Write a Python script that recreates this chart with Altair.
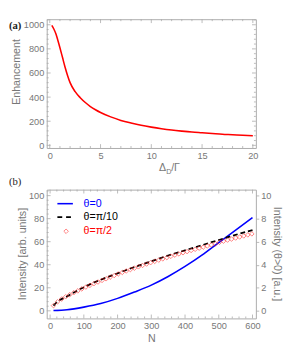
import altair as alt
import pandas as pd

# ---------------- data: panel (a) ----------------
delta_ratio = [0.2, 0.4, 0.6, 0.8, 1.0, 1.25, 1.5, 1.75, 2.0, 2.5, 3.0, 3.5, 4.0, 4.5, 5.0,
               6.0, 7.0, 8.0, 9.0, 10.0, 11.0, 12.0, 13.0, 14.0, 15.0, 16.0, 17.0, 18.0, 19.0, 20.0]
enhancement = [995, 965, 925, 870, 810, 730, 650, 580, 520, 445, 395, 355, 322, 295, 272,
               236, 207, 185, 166, 151, 138, 127, 118, 110, 104, 98, 92, 88, 83, 79]

# ---------------- data: panel (b) ----------------
n_blue = [10, 50, 100, 150, 200, 250, 300, 350, 400, 450, 500, 550, 600]
intensity_theta0 = [0.2, 0.9, 3.2, 6.3, 10.8, 16.3, 22.3, 29.8, 38.5, 48.3, 59.3, 70.0, 81.0]

n_dashed = [10, 20, 50, 100, 150, 200, 250, 300, 350, 400, 450, 500, 550, 600]
intensity_pi10 = [0.45, 0.75, 1.25, 2.05, 2.7, 3.25, 3.8, 4.3, 4.8, 5.25, 5.7, 6.15, 6.6, 7.0]

n_diamond = [10, 22, 34, 46, 58, 70, 82, 94, 106, 118, 130, 142, 154, 166, 178, 190, 202,
             214, 226, 238, 250, 262, 274, 286, 298, 310, 322, 334, 346, 358, 370, 382, 394,
             406, 418, 430, 442, 454, 466, 478, 490, 502, 514, 526, 538, 550, 562, 574, 586, 598]
intensity_pi2 = [0.45, 0.78, 1.02, 1.22, 1.40, 1.57, 1.73, 1.90, 2.06, 2.21, 2.36, 2.50, 2.64,
                 2.78, 2.92, 3.06, 3.20, 3.33, 3.46, 3.58, 3.70, 3.82, 3.94, 4.06, 4.18, 4.29,
                 4.40, 4.51, 4.62, 4.73, 4.84, 4.94, 5.04, 5.14, 5.24, 5.34, 5.44, 5.53, 5.63,
                 5.72, 5.82, 5.95, 6.05, 6.14, 6.23, 6.32, 6.41, 6.50, 6.59, 6.68]

legend_labels = ["θ=0", "θ=π/10", "θ=π/2"]

# ---------------- tick positions ----------------
a_x_major = [0, 5, 10, 15, 20]
a_x_minor = [v for v in range(0, 21) if v % 5 != 0]
a_y_major = [0, 200, 400, 600, 800, 1000]
a_y_minor = [v for v in range(0, 1041, 40) if v % 200 != 0]
b_x_major = [0, 100, 200, 300, 400, 500, 600]
b_x_minor = [v for v in range(0, 610, 20) if v % 100 != 0]
b_y_major = [0, 20, 40, 60, 80, 100]
b_y_minor = [v for v in range(0, 105, 4) if v % 20 != 0]
b_y2_major = [0, 2, 4, 6, 8, 10]

FONT = "Liberation Sans"
SERIF = "Liberation Serif"
LABEL = "#777777"
FRAME = "#aaaaaa"
W, H = 216, 133
one = pd.DataFrame({"k": [0]})


def xticks(vals, field, scale, axis, length, top=True):
    base = alt.Chart(pd.DataFrame({field: vals}))
    enc_x = alt.X(f"{field}:Q", scale=scale, axis=axis)
    layers = [base.mark_rule(color=FRAME, strokeWidth=0.8).encode(
        x=enc_x, y=alt.value(H), y2=alt.value(H - length))]
    if top:
        layers.append(base.mark_rule(color=FRAME, strokeWidth=0.8).encode(
            x=enc_x, y=alt.value(0), y2=alt.value(length)))
    return layers


def yticks(vals, field, scale, axis, length, right=True):
    base = alt.Chart(pd.DataFrame({field: vals}))
    enc_y = alt.Y(f"{field}:Q", scale=scale, axis=axis)
    layers = [base.mark_rule(color=FRAME, strokeWidth=0.8).encode(
        y=enc_y, x=alt.value(0), x2=alt.value(length))]
    if right:
        layers.append(base.mark_rule(color=FRAME, strokeWidth=0.8).encode(
            y=enc_y, x=alt.value(W), x2=alt.value(W - length)))
    return layers


def text(t, x, y, size=11, color=LABEL, font=FONT, weight="normal", baseline="alphabetic"):
    return alt.Chart(one).mark_text(
        text=t, align="left", baseline=baseline, fontSize=size, color=color,
        font=font, fontWeight=weight).encode(x=alt.value(x), y=alt.value(y))


def text_at(t, x, yval, field, scale, axis, size=11, color=LABEL, font=FONT, weight="normal",
            baseline="alphabetic"):
    return alt.Chart(pd.DataFrame({field: [yval]})).mark_text(
        text=t, align="left", baseline=baseline, fontSize=size, color=color,
        font=font, fontWeight=weight).encode(
        x=alt.value(x), y=alt.Y(f"{field}:Q", scale=scale, axis=axis))


axis_common = dict(grid=False, domain=False, ticks=False, tickSize=0, labelFont=FONT,
                   labelFontSize=9.5, labelColor=LABEL, titleFont=FONT, titleFontSize=11,
                   titleColor=LABEL, titleFontWeight="normal", labelFlush=False, format="d")

# ---------------- panel (a) ----------------
ax_scale = alt.Scale(domain=[-0.3, 20.3], nice=False, zero=False)
ay_scale = alt.Scale(domain=[-22, 1046], nice=False, zero=False)
ax_axis = alt.Axis(values=a_x_major, title="", labelPadding=3, **axis_common)
ay_axis = alt.Axis(values=a_y_major, title="Enhancement", labelPadding=3,
                   titleX=-31, titleY=54, titleAngle=270, titleAlign="center",
                   titleBaseline="middle", **axis_common)
df_a = pd.DataFrame({"x": delta_ratio, "y": enhancement})

a_line = alt.Chart(df_a).mark_line(color="#ff0000", strokeWidth=1.6, interpolate="monotone").encode(
    x=alt.X("x:Q", scale=ax_scale, axis=ax_axis),
    y=alt.Y("y:Q", scale=ay_scale, axis=ay_axis),
)

panel_a = alt.layer(
    *xticks(a_x_major, "x", ax_scale, ax_axis, 4), *xticks(a_x_minor, "x", ax_scale, ax_axis, 2),
    *yticks(a_y_major, "y", ay_scale, ay_axis, 4), *yticks(a_y_minor, "y", ay_scale, ay_axis, 2),
    a_line,
    text_at("(a)", -39, 990, "y", ay_scale, ay_axis, size=11, color="#222222", font=SERIF,
            weight="bold", baseline="middle"),
    text_at("Δ", 116, -210, "y", ay_scale, ay_axis),
    text_at("D", 123.5, -234, "y", ay_scale, ay_axis, size=7.5),
    text_at("/Γ", 128.5, -210, "y", ay_scale, ay_axis),
).properties(width=W, height=H)

# ---------------- panel (b) ----------------
bx_scale = alt.Scale(domain=[-10, 610], nice=False, zero=False)
by_scale = alt.Scale(domain=[-6.6, 105.2], nice=False, zero=False)
by2_scale = alt.Scale(domain=[-0.66, 10.52], nice=False, zero=False)
bx_axis = alt.Axis(values=b_x_major, title="N", labelPadding=2, titlePadding=3, **axis_common)
by_axis = alt.Axis(values=b_y_major, title="Intensity [arb. units]", labelPadding=3,
                   titleX=-25, titleY=66, titleAngle=270, titleAlign="center",
                   titleBaseline="middle", **axis_common)
right_common = dict(axis_common)
right_common.update(ticks=True, tickSize=3, tickColor=FRAME, tickWidth=0.8)
by2_axis = alt.Axis(values=b_y2_major, orient="right", title="Intensity (θ>0) [a.u.]",
                    labelPadding=2, titleX=21.5, titleY=66, titleAngle=90,
                    titleAlign="center", titleBaseline="middle", **right_common)

df_blue = pd.DataFrame({"n": n_blue, "v": intensity_theta0})
df_dash = pd.DataFrame({"n": n_dashed, "w": intensity_pi10})
df_diam = pd.DataFrame({"n": n_diamond, "w": intensity_pi2})

blue = alt.Chart(df_blue).mark_line(color="#0000ff", strokeWidth=1.6, interpolate="monotone").encode(
    x=alt.X("n:Q", scale=bx_scale, axis=bx_axis),
    y=alt.Y("v:Q", scale=by_scale, axis=by_axis),
)

dashed = alt.Chart(df_dash).mark_line(color="black", strokeWidth=1.8, strokeDash=[5, 3],
                                      interpolate="monotone").encode(
    x=alt.X("n:Q", scale=bx_scale, axis=bx_axis),
    y=alt.Y("w:Q", scale=by2_scale, axis=by2_axis),
)
diamonds = alt.Chart(df_diam).mark_point(shape="diamond", filled=False, color="#ff2020",
                                         size=22, strokeWidth=0.8).encode(
    x=alt.X("n:Q", scale=bx_scale, axis=bx_axis),
    y=alt.Y("w:Q", scale=by2_scale, axis=by2_axis),
)

leg_line = alt.Chart(one).mark_rule(color="#0000ff", strokeWidth=1.6).encode(
    x=alt.value(11), x2=alt.value(27), y=alt.value(14.5))
leg_dash = alt.Chart(one).mark_rule(color="black", strokeWidth=1.8, strokeDash=[5, 4]).encode(
    x=alt.value(11), x2=alt.value(27), y=alt.value(28.5))
leg_diam = alt.Chart(one).mark_point(shape="diamond", filled=False, color="#ff2020",
                                     size=22, strokeWidth=0.8).encode(
    x=alt.value(20), y=alt.value(43))

left_group = alt.layer(
    *xticks(b_x_major, "n", bx_scale, bx_axis, 4), *xticks(b_x_minor, "n", bx_scale, bx_axis, 2),
    *yticks(b_y_major, "v", by_scale, by_axis, 4, right=False),
    *yticks(b_y_minor, "v", by_scale, by_axis, 2, right=False),
    blue,
    leg_line, leg_dash, leg_diam,
    text(legend_labels[0], 38, 14.5, size=11, color="#0000ff", baseline="middle"),
    text(legend_labels[1], 38, 28.5, size=11, color="black", baseline="middle"),
    text(legend_labels[2], 38, 43, size=11, color="#ff0000", baseline="middle"),
    text("(b)", -39, -7.3, size=11, color="#222222", font=SERIF, baseline="middle"),
)
right_group = alt.layer(dashed, diamonds)

panel_b = alt.layer(left_group, right_group).resolve_scale(y="independent").properties(
    width=W, height=H)

chart = alt.vconcat(panel_a, panel_b, spacing=0).properties(
    padding={"left": 0, "top": 5, "right": 0, "bottom": 0}
).configure_view(stroke=FRAME, strokeWidth=1)

chart.save("out.html", embed_options={"renderer": "svg", "actions": False})
